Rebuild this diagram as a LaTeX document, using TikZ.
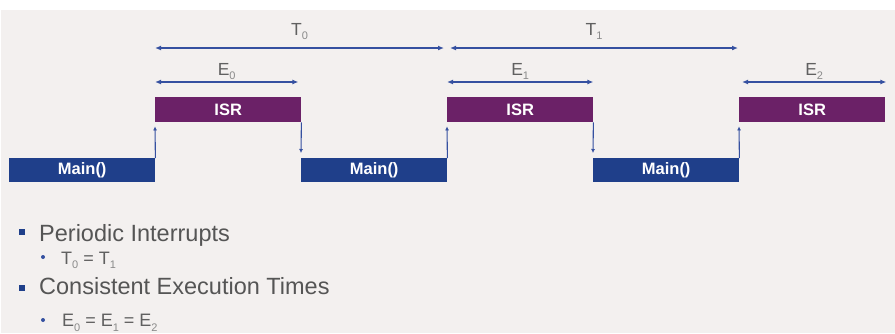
\documentclass[tikz,border=0pt]{standalone}
\usepackage{fontspec}
\setmainfont{Liberation Sans}
\usetikzlibrary{arrows.meta}
\definecolor{bg}{HTML}{F3F0EF}
\definecolor{mainblue}{HTML}{1F3F8A}
\definecolor{isrpurple}{HTML}{6B2167}
\definecolor{arrowblue}{HTML}{3550A0}
\definecolor{txtgray}{HTML}{555555}
\definecolor{lblgray}{HTML}{606060}
\definecolor{subgray}{HTML}{8A8A8A}

% lowered, smaller index used in the labels
\newcommand{\idx}[1]{\raisebox{-0.26em}{\fontsize{11}{11}\selectfont\color{subgray}#1}}

\begin{document}
\begin{tikzpicture}[x=1pt,y=-1pt,
  blk/.style={rectangle, inner sep=0pt, minimum width=146pt, minimum height=24pt,
    text=white, font=\fontsize{16.5}{16.5}\selectfont\bfseries, anchor=north west},
  mainblk/.style={blk, fill=mainblue},
  isrblk/.style={blk, fill=isrpurple, minimum height=25pt},
  edge/.style={draw=arrowblue, line width=1.1pt, -{Latex[length=4pt,width=4pt]}},
  dim/.style={draw=arrowblue, line width=1.6pt,
    {Latex[length=6pt,width=5pt]}-{Latex[length=6pt,width=5pt]}},
  dimlabel/.style={text=lblgray, font=\fontsize{17.5}{17.5}\selectfont, inner sep=0pt, anchor=base},
  bul/.style={rectangle, fill=mainblue, inner sep=0pt, minimum size=6pt},
  subbul/.style={circle, fill=arrowblue, inner sep=0pt, minimum size=4pt},
  lone/.style={text=txtgray, font=\fontsize{23.5}{23.5}\selectfont, inner sep=0pt, anchor=base west},
  ltwo/.style={text=lblgray, font=\fontsize{18}{18}\selectfont, inner sep=0pt, anchor=base west}]

\useasboundingbox (0,0) rectangle (895,333);
\fill[white] (0,0) rectangle (895,333);
\fill[bg] (1,10) rectangle (895,333);

% execution blocks
\node[mainblk] (m1) at (9,158)   {Main()};
\node[isrblk]  (i1) at (155,97)  {ISR};
\node[mainblk] (m2) at (301,158) {Main()};
\node[isrblk]  (i2) at (447,97)  {ISR};
\node[mainblk] (m3) at (593,158) {Main()};
\node[isrblk]  (i3) at (739,97)  {ISR};

% context switches
\draw[edge] (m1.north east) -- ([yshift=-4pt]i1.south west);
\draw[edge] (i1.south east) -- ([yshift=5pt]m2.north west);
\draw[edge] (m2.north east) -- ([yshift=-4pt]i2.south west);
\draw[edge] (i2.south east) -- ([yshift=5pt]m3.north west);
\draw[edge] (m3.north east) -- ([yshift=-4pt]i3.south west);

% periods
\draw[dim] ([yshift=49pt]i1.north west) -- ([xshift=-3pt,yshift=49pt]i2.north west)
  node[dimlabel, midway, yshift=13pt] (t0) {T\idx{0}};
\draw[dim] ([xshift=3pt,yshift=49pt]i2.north west) -- ([xshift=-1pt,yshift=49pt]i3.north west)
  node[dimlabel, midway, yshift=13pt] (t1) {T\idx{1}};

% execution times
\draw[dim] ([yshift=15pt]i1.north west) -- ([xshift=-3pt,yshift=15pt]i1.north east)
  node[dimlabel, midway, yshift=7pt] (e0) {E\idx{0}};
\draw[dim] ([yshift=15pt]i2.north west) -- ([yshift=15pt]i2.north east)
  node[dimlabel, midway, yshift=7pt] (e1) {E\idx{1}};
\draw[dim] ([xshift=3pt,yshift=15pt]i3.north west) -- ([xshift=1pt,yshift=15pt]i3.north east)
  node[dimlabel, midway, yshift=7pt] (e2) {E\idx{2}};

% notes
\node[bul] (b1) at (22,232) {};
\node[lone] (p1) at (39,241.7) {Periodic Interrupts};
\node[subbul] (b2) at (43,257) {};
\node[ltwo] (p2) at (61,264) {T\idx{0} = T\idx{1}};
\node[bul] (b3) at (22,288) {};
\node[lone] (p3) at (39,294) {Consistent Execution Times};
\node[subbul] (b4) at (43,320) {};
\node[ltwo] (p4) at (62,326.5) {E\idx{0} = E\idx{1} = E\idx{2}};
\end{tikzpicture}
\end{document}
